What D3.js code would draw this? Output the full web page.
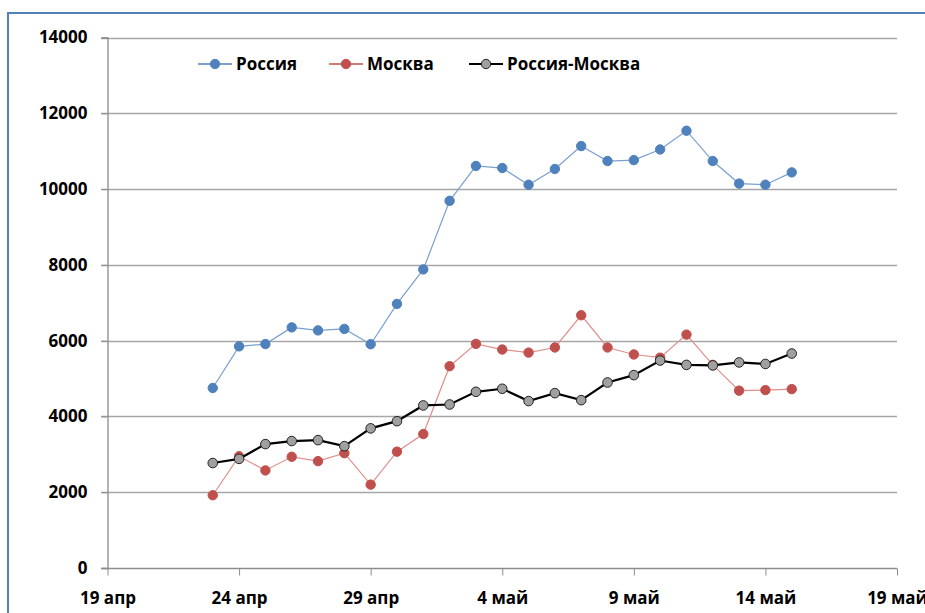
<!DOCTYPE html>
<html>
<head>
<meta charset="utf-8">
<script src="https://cdn.jsdelivr.net/npm/d3@7"></script>
<style>
  body { margin: 0; background: #fff; }
  svg text { font-family: "Open Sans", "Noto Sans", sans-serif; font-weight: bold; fill: #000; }
</style>
</head>
<body>
<div id="chart"></div>
<script>
var days = ["2020-04-23", "2020-04-24", "2020-04-25", "2020-04-26", "2020-04-27", "2020-04-28",
  "2020-04-29", "2020-04-30", "2020-05-01", "2020-05-02", "2020-05-03", "2020-05-04",
  "2020-05-05", "2020-05-06", "2020-05-07", "2020-05-08", "2020-05-09", "2020-05-10",
  "2020-05-11", "2020-05-12", "2020-05-13", "2020-05-14", "2020-05-15"]
var russia = [4750, 5850, 5910, 6350, 6270, 6310, 5905, 6970, 7880, 9690, 10610, 10555,
  10115, 10530, 11135, 10740, 10765, 11045, 11540, 10740, 10145, 10115, 10440]
var moscow = [1920, 2950, 2575, 2935, 2820, 3030, 2200, 3070, 3535, 5325, 5915, 5765,
  5685, 5820, 6670, 5820, 5635, 5550, 6160, 5360, 4680, 4695, 4720]
var rest = [2770, 2880, 3270, 3350, 3375, 3215, 3685, 3875, 4290, 4315, 4650, 4730,
  4405, 4615, 4430, 4895, 5090, 5475, 5360, 5345, 5425, 5385, 5660]
var tickDays = ["2020-04-19", "2020-04-24", "2020-04-29", "2020-05-04", "2020-05-09", "2020-05-14", "2020-05-19"]
var tickLabels = ["19 апр", "24 апр", "29 апр", "4 май", "9 май", "14 май", "19 май"]
var yTicks = [0, 2000, 4000, 6000, 8000, 10000, 12000, 14000]
var seriesNames = ["Россия", "Москва", "Россия-Москва"]

var width = 925, height = 613
var parse = d3.timeParse("%Y-%m-%d")

var svg = d3.select("#chart").append("svg")
  .attr("width", width)
  .attr("height", height)

// chart frame
svg.append("rect")
  .attr("x", 8).attr("y", 13)
  .attr("width", 960).attr("height", 640)
  .attr("fill", "none")
  .attr("stroke", "#4f81bd")
  .attr("stroke-width", 2)

var x = d3.scaleTime()
  .domain([parse(tickDays[0]), parse(tickDays[tickDays.length - 1])])
  .range([107.5, 897])
var y = d3.scaleLinear().domain([0, 14000]).range([568, 37.5])

// grid
svg.append("g").selectAll("line")
  .data(yTicks.filter(function(d) { return d > 0 }))
  .join("line")
  .attr("x1", 101).attr("x2", 897)
  .attr("y1", function(d) { return Math.round(y(d)) + 0.5 })
  .attr("y2", function(d) { return Math.round(y(d)) + 0.5 })
  .attr("stroke", "#a6a6a6")
  .attr("stroke-width", 1.3)

// y axis
var yAxis = svg.append("g")
  .attr("transform", "translate(107.5,0)")
  .call(d3.axisLeft(y).tickValues(yTicks).tickSize(6).tickPadding(14).tickFormat(d3.format("d")))
yAxis.select(".domain").attr("stroke", "#8c8c8c").attr("stroke-width", 1.3)
yAxis.selectAll(".tick line").attr("stroke", "#8c8c8c")
yAxis.selectAll("text").style("font-size", "17px").attr("font-family", null).attr("fill", "#000")

// x axis
var xAxis = svg.append("g")
  .attr("transform", "translate(0," + (Math.round(y(0)) + 0.5) + ")")
  .call(d3.axisBottom(x)
    .tickValues(tickDays.map(parse))
    .tickSize(7)
    .tickPadding(16)
    .tickFormat(function(d, i) { return tickLabels[i] }))
xAxis.select(".domain").attr("stroke", "#8c8c8c").attr("stroke-width", 1.3).attr("d", "M101,0H897")
xAxis.selectAll(".tick line").attr("stroke", "#8c8c8c")
xAxis.selectAll("text").style("font-size", "17px").attr("font-family", null).attr("fill", "#000")

var dates = days.map(parse)
var line = d3.line()
  .x(function(d, i) { return x(dates[i]) })
  .y(function(d) { return y(d) })

function drawSeries(values, lineColor, lineWidth, dotFill, dotStroke, r) {
  var g = svg.append("g")
  g.append("path")
    .datum(values)
    .attr("d", line)
    .attr("fill", "none")
    .attr("stroke", lineColor)
    .attr("stroke-width", lineWidth)
  g.selectAll("circle")
    .data(values)
    .join("circle")
    .attr("cx", function(d, i) { return x(dates[i]) })
    .attr("cy", function(d) { return y(d) })
    .attr("r", r)
    .attr("fill", dotFill)
    .attr("stroke", dotStroke)
}

drawSeries(russia, "#7aa0d0", 1.2, "#4f81bd", "#4f81bd", 4.7)
drawSeries(moscow, "#e08f8d", 1.2, "#c0504d", "#c0504d", 4.7)
drawSeries(rest, "#000", 2.2, "#a0a0a0", "#222", 4.8)

// legend
var legend = [
  { name: seriesNames[0], x: 198, line: "#4f81bd", lw: 1.3, fill: "#4f81bd", stroke: "#4f81bd" },
  { name: seriesNames[1], x: 329, line: "#c0504d", lw: 1.3, fill: "#c0504d", stroke: "#c0504d" },
  { name: seriesNames[2], x: 469, line: "#000", lw: 2.2, fill: "#a0a0a0", stroke: "#222" }
]
var lg = svg.append("g").selectAll("g").data(legend).join("g")
  .attr("transform", function(d) { return "translate(" + d.x + ",64)" })
lg.append("line").attr("x1", 0).attr("x2", 34)
  .attr("stroke", function(d) { return d.line })
  .attr("stroke-width", function(d) { return d.lw })
lg.append("circle").attr("cx", 17).attr("r", 4.7)
  .attr("fill", function(d) { return d.fill })
  .attr("stroke", function(d) { return d.stroke })
lg.append("text").attr("x", 38).attr("dy", "0.35em")
  .style("font-size", "17px")
  .text(function(d) { return d.name })
</script>
</body>
</html>
